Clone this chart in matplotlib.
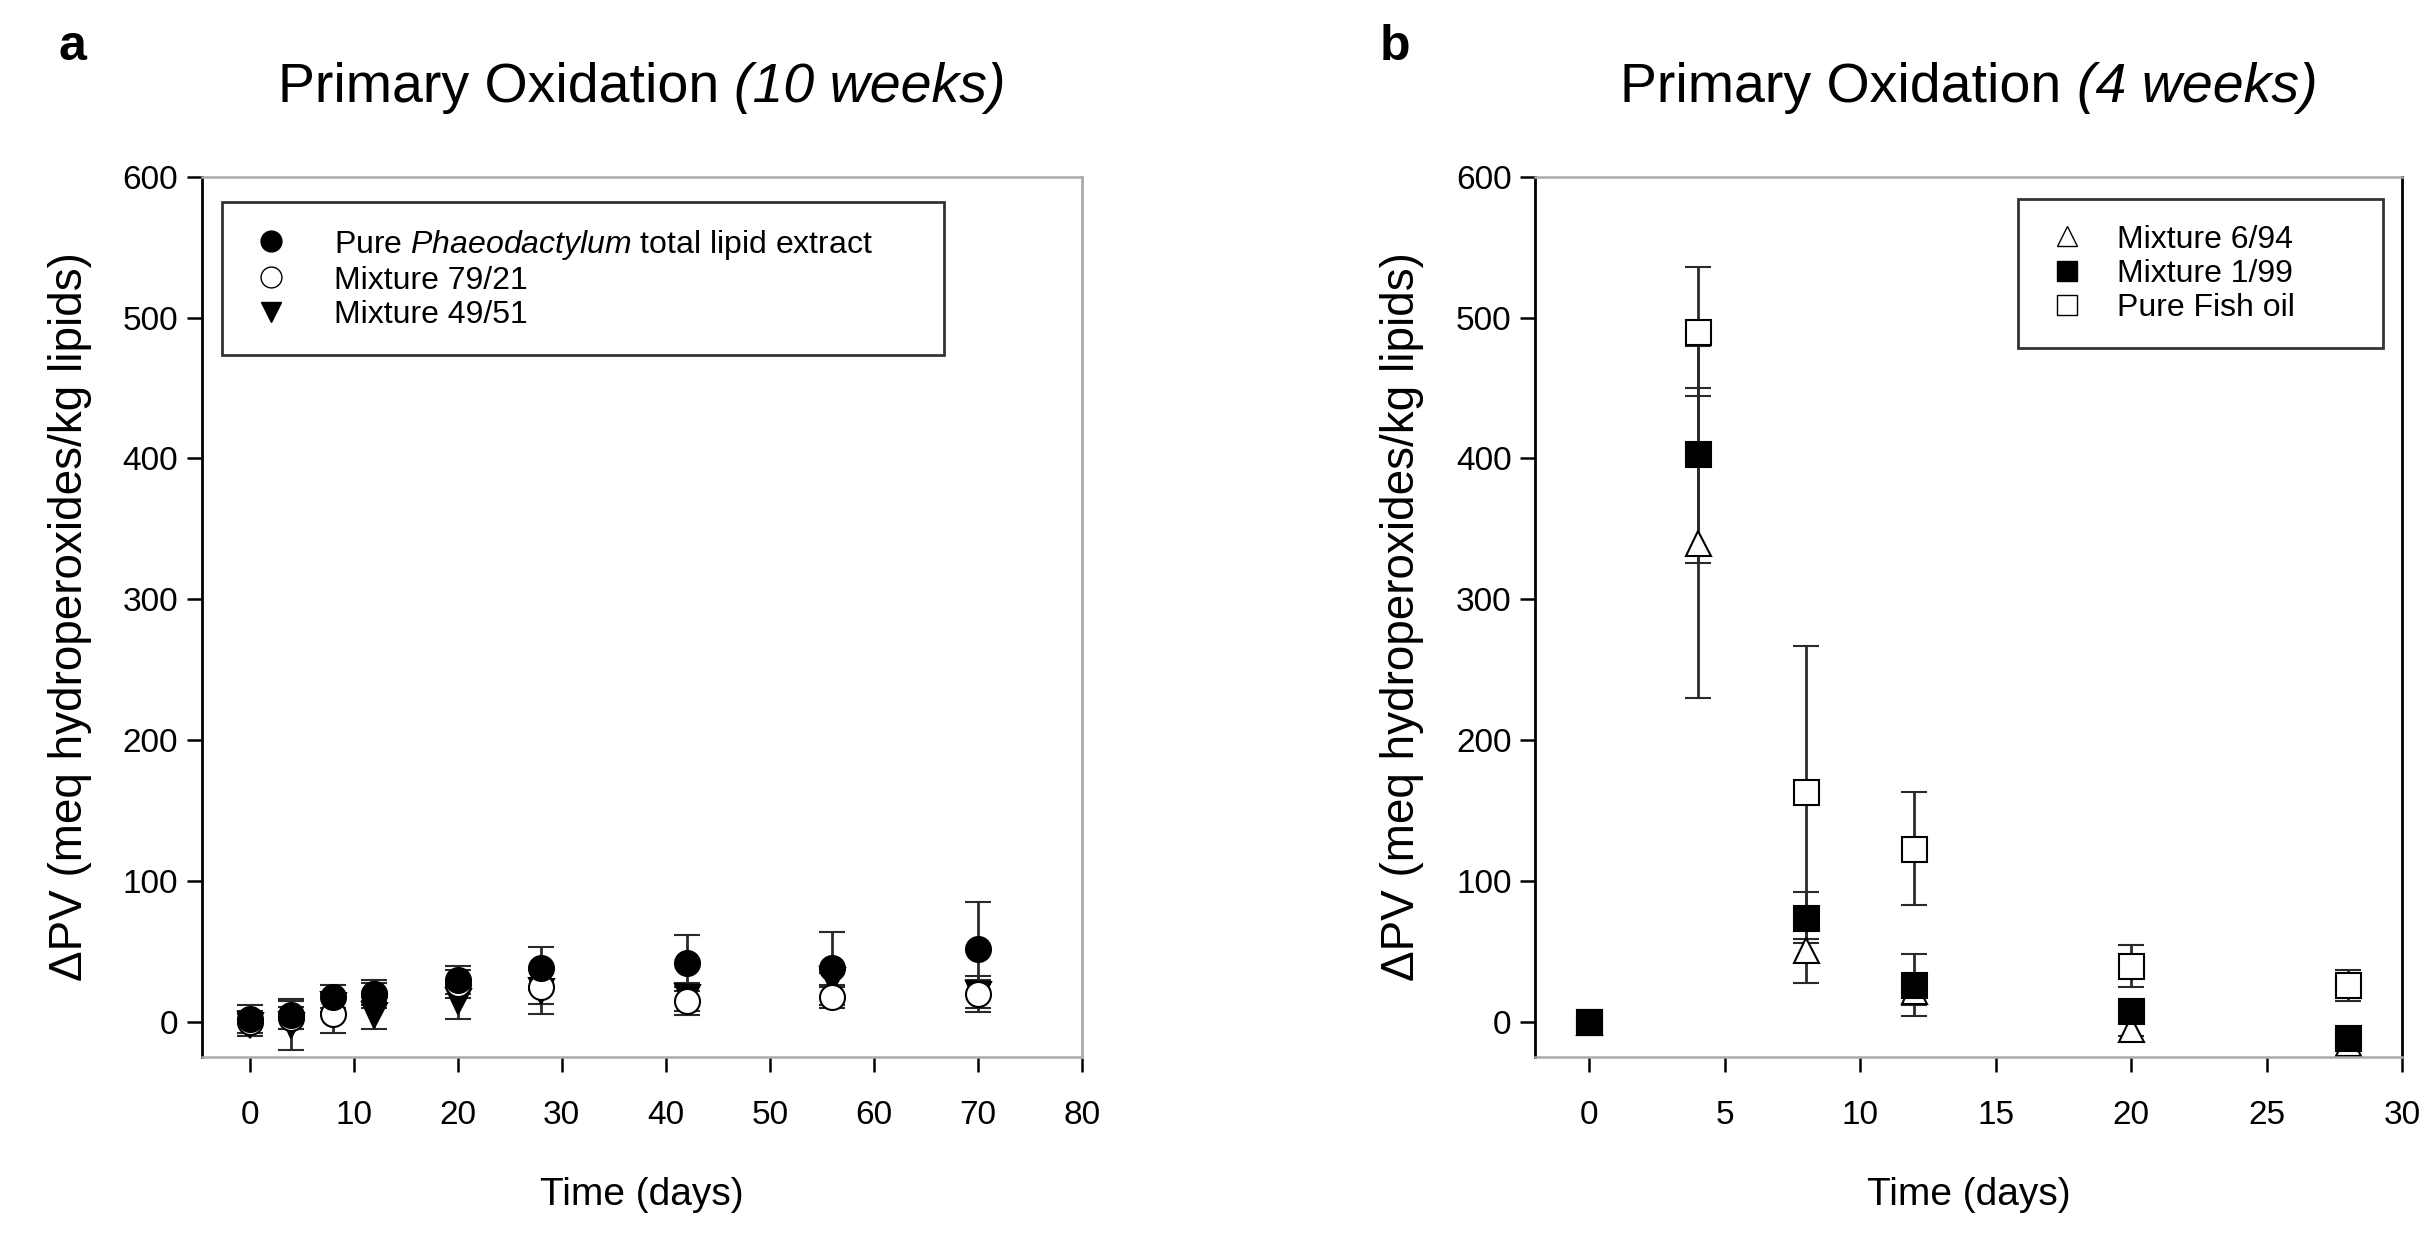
import matplotlib
matplotlib.use("Agg")
import matplotlib.pyplot as plt
from matplotlib.lines import Line2D

plt.rcParams['font.family'] = ['Liberation Sans', 'DejaVu Sans']
plt.rcParams['mathtext.fontset'] = 'custom'
plt.rcParams['mathtext.rm'] = 'Liberation Sans'
plt.rcParams['mathtext.it'] = 'Liberation Sans:italic'

# panel a - 10 weeks
days_a = [0, 4, 8, 12, 20, 28, 42, 56, 70]
pure_phaeo = [2, 5, 18, 20, 30, 38, 42, 38, 52]
pure_phaeo_err = [10, 10, 8, 10, 10, 15, 20, 26, 33]
mix_79_21 = [0, 3, 6, 20, 27, 25, 15, 18, 20]
mix_79_21_err = [8, 8, 14, 8, 10, 12, 10, 8, 10]
mix_49_51 = [-2, -2, 12, 5, 15, 22, 18, 30, 20]
mix_49_51_err = [8, 18, 5, 10, 13, 16, 10, 5, 13]

# panel b - 4 weeks
days_b = [0, 4, 8, 12, 20, 28]
mix_6_94 = [0, 340, 51, 22, -5, -15]
mix_6_94_err = [3, 110, 23, 10, 5, 5]
mix_1_99 = [0, 403, 74, 26, 8, -11]
mix_1_99_err = [3, 77, 18, 22, 6, 4]
fish_oil = [0, 490, 163, 123, 40, 26]
fish_oil_err = [3, 46, 104, 40, 15, 11]

labels_a = ["Pure $\\mathit{Phaeodactylum}$ total lipid extract", "Mixture 79/21", "Mixture 49/51"]
labels_b = ["Mixture 6/94", "Mixture 1/99", "Pure Fish oil"]

FS_TICK = 24
FS_XLABEL = 28
FS_YLABEL = 33
FS_TITLE = 40
FS_LEG = 23

W, H = 2434, 1239
fig = plt.figure(figsize=(W / 100, H / 100), dpi=100)
ax_a = fig.add_axes([0.0829, 0.1467, 0.3616, 0.7107])
ax_b = fig.add_axes([0.6307, 0.1467, 0.3562, 0.7107])


def style_axis(ax, right_color, ylab_x):
    for side in ['top', 'bottom']:
        ax.spines[side].set_color('#aaaaaa')
        ax.spines[side].set_linewidth(1.8)
    ax.spines['left'].set_color('black')
    ax.spines['left'].set_linewidth(2)
    ax.spines['right'].set_color(right_color)
    ax.spines['right'].set_linewidth(2)
    ax.tick_params(direction='out', length=11, width=1.8, labelsize=FS_TICK)
    ax.tick_params(axis='x', pad=20)
    ax.tick_params(axis='y', pad=6)
    ax.set_ylim(-25, 600)
    ax.set_yticks([0, 100, 200, 300, 400, 500, 600])
    ax.set_ylabel("ΔPV (meq hydroperoxides/kg lipids)", fontsize=FS_YLABEL)
    ax.yaxis.set_label_coords(ylab_x, 0.1467 + 0.7107 / 2, transform=fig.transFigure)
    ax.yaxis.label.set_va('center')
    ax.set_xlabel("Time (days)", fontsize=FS_XLABEL)
    pos = ax.get_position()
    ax.xaxis.set_label_coords(pos.x0 + pos.width / 2, 0.0355, transform=fig.transFigure)
    ax.xaxis.label.set_va('center')


def draw(ax, x, y, err, marker, face):
    ax.errorbar(x, y, yerr=err, fmt=marker, ms=18, mfc=face, mec='black', mew=1.5,
                ecolor='#2a2a2a', elinewidth=2, capsize=9.5, capthick=2.2, linestyle='none')


# panel a
draw(ax_a, days_a, mix_49_51, mix_49_51_err, 'v', 'black')
draw(ax_a, days_a, mix_79_21, mix_79_21_err, 'o', 'white')
draw(ax_a, days_a, pure_phaeo, pure_phaeo_err, 'o', 'black')
style_axis(ax_a, '#aaaaaa', 0.0288)
ax_a.set_xlim(-4.6, 80)
ax_a.set_xticks(range(0, 81, 10))

# panel b
draw(ax_b, days_b, mix_6_94, mix_6_94_err, '^', 'white')
draw(ax_b, days_b, fish_oil, fish_oil_err, 's', 'white')
draw(ax_b, days_b, mix_1_99, mix_1_99_err, 's', 'black')
style_axis(ax_b, 'black', 0.576)
ax_b.set_xlim(-2.0, 30)
ax_b.set_xticks(range(0, 31, 5))

# titles: plain part + italic part, centred over each axes
renderer = fig.canvas.get_renderer()


def split_title(ax, plain, italic, y=0.929):
    t1 = fig.text(0, y, plain, fontsize=FS_TITLE, va='center')
    t2 = fig.text(0, y, italic, fontsize=FS_TITLE, style='italic', va='center')
    w1 = t1.get_window_extent(renderer).width
    w2 = t2.get_window_extent(renderer).width
    gap = 0.278 * FS_TITLE * 100 / 72
    pos = ax.get_position()
    cx = (pos.x0 + pos.width / 2) * W
    x0 = cx - (w1 + gap + w2) / 2
    t1.set_x(x0 / W)
    t2.set_x((x0 + w1 + gap) / W)


split_title(ax_a, "Primary Oxidation", "(10 weeks)")
split_title(ax_b, "Primary Oxidation", "(4 weeks)")
fig.text(0.024, 0.962, "a", fontsize=36, fontweight='bold', va='center')
fig.text(0.567, 0.962, "b", fontsize=36, fontweight='bold', va='center')

# legends
h_a = [Line2D([], [], marker='o', ls='none', ms=15, mfc='black', mec='black'),
       Line2D([], [], marker='o', ls='none', ms=15, mfc='white', mec='black', mew=1),
       Line2D([], [], marker='v', ls='none', ms=15, mfc='black', mec='black')]
leg_a = ax_a.legend(h_a, labels_a, loc='upper left', bbox_to_anchor=(0.0912, 0.837 - 0.1, 0.2966, 0.1),
                    bbox_transform=fig.transFigure, mode='expand', fontsize=FS_LEG, frameon=True,
                    fancybox=False, edgecolor='black', borderpad=0.8, handletextpad=1.2,
                    labelspacing=0.13, borderaxespad=0, handlelength=1.5)
leg_a.get_frame().set_linewidth(2)

h_b = [Line2D([], [], marker='^', ls='none', ms=15, mfc='white', mec='black', mew=1),
       Line2D([], [], marker='s', ls='none', ms=15, mfc='black', mec='black'),
       Line2D([], [], marker='s', ls='none', ms=15, mfc='white', mec='black', mew=1)]
leg_b = ax_b.legend(h_b, labels_b, loc='upper left', bbox_to_anchor=(0.829, 0.8394 - 0.1, 0.150, 0.1),
                    bbox_transform=fig.transFigure, mode='expand', fontsize=FS_LEG, frameon=True,
                    fancybox=False, edgecolor='black', borderpad=0.8, handletextpad=0.8,
                    labelspacing=0.13, borderaxespad=0, handlelength=1.5)
leg_b.get_frame().set_linewidth(2)

fig.savefig("out.png", dpi=100, facecolor='white')
